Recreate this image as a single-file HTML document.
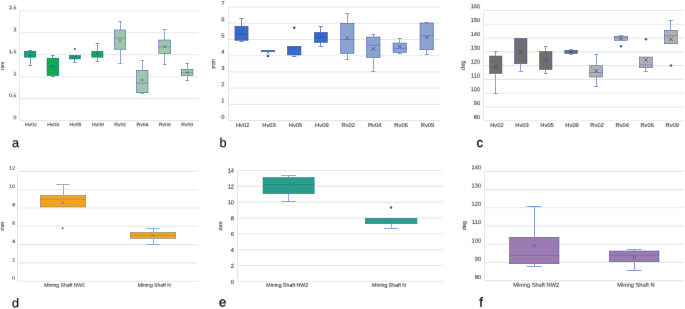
<!DOCTYPE html>
<html><head><meta charset="utf-8"><title>Box plots</title>
<style>
html,body{margin:0;padding:0;background:#fff;}
body{width:685px;height:309px;overflow:hidden;font-family:"Liberation Sans",sans-serif;}
svg{display:block;}

svg text{font-family:"Liberation Sans",sans-serif;}
</style></head><body>
<svg width="685" height="309" viewBox="0 0 685 309" text-rendering="geometricPrecision">
<defs><filter id="tb" x="0" y="0" width="685" height="309" filterUnits="userSpaceOnUse"><feConvolveMatrix order="3" kernelMatrix="0.0052 0.0619 0.0052 0.0619 0.7314 0.0619 0.0052 0.0619 0.0052" edgeMode="none" preserveAlpha="false"/></filter></defs>
<rect width="685" height="309" fill="#ffffff"/>
<line x1="19.60" y1="10.80" x2="198.25" y2="10.80" stroke="#e8e8e8" stroke-width="1.1" />
<line x1="19.60" y1="32.76" x2="198.25" y2="32.76" stroke="#e8e8e8" stroke-width="1.1" />
<line x1="19.60" y1="54.72" x2="198.25" y2="54.72" stroke="#e8e8e8" stroke-width="1.1" />
<line x1="19.60" y1="76.68" x2="198.25" y2="76.68" stroke="#e8e8e8" stroke-width="1.1" />
<line x1="19.60" y1="98.64" x2="198.25" y2="98.64" stroke="#e8e8e8" stroke-width="1.1" />
<line x1="19.60" y1="120.60" x2="198.25" y2="120.60" stroke="#e8e8e8" stroke-width="1.1" />
<line x1="19.50" y1="10.80" x2="19.50" y2="120.60" stroke="#e8e8e8" stroke-width="1" />
<line x1="30.50" y1="50.50" x2="30.50" y2="51.20" stroke="#4466b0" stroke-width="0.65" />
<line x1="28.21" y1="50.50" x2="31.94" y2="50.50" stroke="#4466b0" stroke-width="0.65" />
<line x1="30.50" y1="57.20" x2="30.50" y2="65.50" stroke="#4466b0" stroke-width="0.65" />
<line x1="28.21" y1="65.50" x2="31.94" y2="65.50" stroke="#4466b0" stroke-width="0.65" />
<rect x="24.25" y="51.20" width="11.65" height="6.00" fill="#0dad4f" fill-opacity="1.0" stroke="#4366b2" stroke-width="0.55"/>
<line x1="24.25" y1="51.80" x2="35.90" y2="51.80" stroke="#4366b2" stroke-width="0.45" />
<line x1="28.72" y1="53.95" x2="31.43" y2="56.65" stroke="#2a4590" stroke-width="0.5" />
<line x1="28.72" y1="56.65" x2="31.43" y2="53.95" stroke="#2a4590" stroke-width="0.5" />
<line x1="52.50" y1="55.50" x2="52.50" y2="58.10" stroke="#4466b0" stroke-width="0.65" />
<line x1="51.05" y1="55.50" x2="54.85" y2="55.50" stroke="#4466b0" stroke-width="0.65" />
<line x1="52.50" y1="75.60" x2="52.50" y2="76.50" stroke="#4466b0" stroke-width="0.65" />
<line x1="51.05" y1="76.50" x2="54.85" y2="76.50" stroke="#4466b0" stroke-width="0.65" />
<rect x="47.00" y="58.10" width="11.90" height="17.50" fill="#0dad4f" fill-opacity="1.0" stroke="#4366b2" stroke-width="0.55"/>
<line x1="47.00" y1="66.50" x2="58.90" y2="66.50" stroke="#4366b2" stroke-width="0.45" />
<line x1="51.60" y1="65.15" x2="54.30" y2="67.85" stroke="#2a4590" stroke-width="0.5" />
<line x1="51.60" y1="67.85" x2="54.30" y2="65.15" stroke="#2a4590" stroke-width="0.5" />
<line x1="74.50" y1="59.00" x2="74.50" y2="62.50" stroke="#4466b0" stroke-width="0.65" />
<line x1="73.08" y1="62.50" x2="76.67" y2="62.50" stroke="#4466b0" stroke-width="0.65" />
<rect x="69.25" y="55.25" width="11.25" height="3.75" fill="#0dad4f" fill-opacity="1.0" stroke="#4366b2" stroke-width="0.55"/>
<line x1="69.25" y1="57.00" x2="80.50" y2="57.00" stroke="#4366b2" stroke-width="0.45" />
<line x1="73.53" y1="55.65" x2="76.22" y2="58.35" stroke="#2a4590" stroke-width="0.5" />
<line x1="73.53" y1="58.35" x2="76.22" y2="55.65" stroke="#2a4590" stroke-width="0.5" />
<circle cx="74.75" cy="49.00" r="1.1" fill="#1f6f78"/>
<line x1="97.50" y1="43.50" x2="97.50" y2="51.20" stroke="#4466b0" stroke-width="0.65" />
<line x1="95.58" y1="43.50" x2="99.17" y2="43.50" stroke="#4466b0" stroke-width="0.65" />
<line x1="97.50" y1="57.20" x2="97.50" y2="61.50" stroke="#4466b0" stroke-width="0.65" />
<line x1="95.58" y1="61.50" x2="99.17" y2="61.50" stroke="#4466b0" stroke-width="0.65" />
<rect x="91.75" y="51.20" width="11.25" height="6.00" fill="#0dad4f" fill-opacity="1.0" stroke="#4366b2" stroke-width="0.55"/>
<line x1="91.75" y1="54.00" x2="103.00" y2="54.00" stroke="#4366b2" stroke-width="0.45" />
<line x1="96.03" y1="52.25" x2="98.72" y2="54.95" stroke="#2a4590" stroke-width="0.5" />
<line x1="96.03" y1="54.95" x2="98.72" y2="52.25" stroke="#2a4590" stroke-width="0.5" />
<line x1="120.50" y1="21.50" x2="120.50" y2="30.00" stroke="#5f7ebe" stroke-width="0.65" />
<line x1="118.16" y1="21.50" x2="121.84" y2="21.50" stroke="#5f7ebe" stroke-width="0.65" />
<line x1="120.50" y1="49.25" x2="120.50" y2="63.50" stroke="#5f7ebe" stroke-width="0.65" />
<line x1="118.16" y1="63.50" x2="121.84" y2="63.50" stroke="#5f7ebe" stroke-width="0.65" />
<rect x="114.25" y="30.00" width="11.50" height="19.25" fill="#9fc5aa" fill-opacity="1.0" stroke="#4366b2" stroke-width="0.55"/>
<line x1="114.25" y1="38.00" x2="125.75" y2="38.00" stroke="#4366b2" stroke-width="0.45" />
<line x1="118.65" y1="39.15" x2="121.35" y2="41.85" stroke="#2a4590" stroke-width="0.5" />
<line x1="118.65" y1="41.85" x2="121.35" y2="39.15" stroke="#2a4590" stroke-width="0.5" />
<line x1="142.50" y1="60.50" x2="142.50" y2="70.25" stroke="#5f7ebe" stroke-width="0.65" />
<line x1="140.41" y1="60.50" x2="144.09" y2="60.50" stroke="#5f7ebe" stroke-width="0.65" />
<line x1="142.50" y1="92.75" x2="142.50" y2="93.50" stroke="#5f7ebe" stroke-width="0.65" />
<line x1="140.41" y1="93.50" x2="144.09" y2="93.50" stroke="#5f7ebe" stroke-width="0.65" />
<rect x="136.50" y="70.25" width="11.50" height="22.50" fill="#9fc5aa" fill-opacity="1.0" stroke="#4366b2" stroke-width="0.55"/>
<line x1="136.50" y1="83.25" x2="148.00" y2="83.25" stroke="#4366b2" stroke-width="0.45" />
<line x1="140.90" y1="78.65" x2="143.60" y2="81.35" stroke="#2a4590" stroke-width="0.5" />
<line x1="140.90" y1="81.35" x2="143.60" y2="78.65" stroke="#2a4590" stroke-width="0.5" />
<line x1="164.50" y1="29.50" x2="164.50" y2="40.00" stroke="#5f7ebe" stroke-width="0.65" />
<line x1="162.83" y1="29.50" x2="166.67" y2="29.50" stroke="#5f7ebe" stroke-width="0.65" />
<line x1="164.50" y1="53.50" x2="164.50" y2="64.50" stroke="#5f7ebe" stroke-width="0.65" />
<line x1="162.83" y1="64.50" x2="166.67" y2="64.50" stroke="#5f7ebe" stroke-width="0.65" />
<rect x="158.75" y="40.00" width="12.00" height="13.50" fill="#9fc5aa" fill-opacity="1.0" stroke="#4366b2" stroke-width="0.55"/>
<line x1="158.75" y1="46.75" x2="170.75" y2="46.75" stroke="#4366b2" stroke-width="0.45" />
<line x1="163.40" y1="45.40" x2="166.10" y2="48.10" stroke="#2a4590" stroke-width="0.5" />
<line x1="163.40" y1="48.10" x2="166.10" y2="45.40" stroke="#2a4590" stroke-width="0.5" />
<line x1="187.50" y1="63.50" x2="187.50" y2="69.25" stroke="#5f7ebe" stroke-width="0.65" />
<line x1="185.25" y1="63.50" x2="189.00" y2="63.50" stroke="#5f7ebe" stroke-width="0.65" />
<line x1="187.50" y1="75.50" x2="187.50" y2="80.50" stroke="#5f7ebe" stroke-width="0.65" />
<line x1="185.25" y1="80.50" x2="189.00" y2="80.50" stroke="#5f7ebe" stroke-width="0.65" />
<rect x="181.25" y="69.25" width="11.75" height="6.25" fill="#9fc5aa" fill-opacity="1.0" stroke="#4366b2" stroke-width="0.55"/>
<line x1="181.25" y1="72.50" x2="193.00" y2="72.50" stroke="#4366b2" stroke-width="0.45" />
<line x1="185.78" y1="71.15" x2="188.47" y2="73.85" stroke="#2a4590" stroke-width="0.5" />
<line x1="185.78" y1="73.85" x2="188.47" y2="71.15" stroke="#2a4590" stroke-width="0.5" />
<line x1="228.70" y1="7.00" x2="440.00" y2="7.00" stroke="#e8e8e8" stroke-width="1.1" />
<line x1="228.70" y1="23.23" x2="440.00" y2="23.23" stroke="#e8e8e8" stroke-width="1.1" />
<line x1="228.70" y1="39.46" x2="440.00" y2="39.46" stroke="#e8e8e8" stroke-width="1.1" />
<line x1="228.70" y1="55.69" x2="440.00" y2="55.69" stroke="#e8e8e8" stroke-width="1.1" />
<line x1="228.70" y1="71.92" x2="440.00" y2="71.92" stroke="#e8e8e8" stroke-width="1.1" />
<line x1="228.70" y1="88.15" x2="440.00" y2="88.15" stroke="#e8e8e8" stroke-width="1.1" />
<line x1="228.70" y1="104.38" x2="440.00" y2="104.38" stroke="#e8e8e8" stroke-width="1.1" />
<line x1="228.70" y1="120.61" x2="440.00" y2="120.61" stroke="#e8e8e8" stroke-width="1.1" />
<line x1="228.50" y1="7.00" x2="228.50" y2="120.61" stroke="#e8e8e8" stroke-width="1" />
<line x1="241.50" y1="18.50" x2="241.50" y2="26.20" stroke="#5a7cc4" stroke-width="0.85" />
<line x1="239.39" y1="18.50" x2="243.61" y2="18.50" stroke="#5a7cc4" stroke-width="0.85" />
<line x1="241.50" y1="40.40" x2="241.50" y2="41.50" stroke="#5a7cc4" stroke-width="0.85" />
<line x1="239.39" y1="41.50" x2="243.61" y2="41.50" stroke="#5a7cc4" stroke-width="0.85" />
<rect x="234.90" y="26.20" width="13.20" height="14.20" fill="#3a6bc6" fill-opacity="1.0" stroke="#4366b2" stroke-width="0.55"/>
<line x1="234.90" y1="34.25" x2="248.10" y2="34.25" stroke="#2c52a6" stroke-width="0.45" />
<line x1="239.70" y1="30.70" x2="243.30" y2="34.30" stroke="#2c52a6" stroke-width="0.6" />
<line x1="239.70" y1="34.30" x2="243.30" y2="30.70" stroke="#2c52a6" stroke-width="0.6" />
<rect x="261.25" y="50.25" width="13.50" height="1.50" fill="#3a6bc6" fill-opacity="1.0" stroke="#4366b2" stroke-width="0.55"/>
<line x1="266.20" y1="50.80" x2="269.80" y2="54.40" stroke="#2c52a6" stroke-width="0.6" />
<line x1="266.20" y1="54.40" x2="269.80" y2="50.80" stroke="#2c52a6" stroke-width="0.6" />
<circle cx="268.00" cy="56.00" r="1.3" fill="#2f60c0"/>
<line x1="294.50" y1="55.00" x2="294.50" y2="56.50" stroke="#5a7cc4" stroke-width="0.85" />
<line x1="291.96" y1="56.50" x2="296.34" y2="56.50" stroke="#5a7cc4" stroke-width="0.85" />
<rect x="287.30" y="46.50" width="13.70" height="8.50" fill="#3a6bc6" fill-opacity="1.0" stroke="#4366b2" stroke-width="0.55"/>
<line x1="287.30" y1="46.90" x2="301.00" y2="46.90" stroke="#2c52a6" stroke-width="0.45" />
<line x1="292.35" y1="46.20" x2="295.95" y2="49.80" stroke="#2c52a6" stroke-width="0.6" />
<line x1="292.35" y1="49.80" x2="295.95" y2="46.20" stroke="#2c52a6" stroke-width="0.6" />
<circle cx="294.25" cy="27.75" r="1.3" fill="#2f60c0"/>
<line x1="320.50" y1="26.50" x2="320.50" y2="32.25" stroke="#5a7cc4" stroke-width="0.85" />
<line x1="318.75" y1="26.50" x2="323.00" y2="26.50" stroke="#5a7cc4" stroke-width="0.85" />
<line x1="320.50" y1="42.50" x2="320.50" y2="46.50" stroke="#5a7cc4" stroke-width="0.85" />
<line x1="318.75" y1="46.50" x2="323.00" y2="46.50" stroke="#5a7cc4" stroke-width="0.85" />
<rect x="314.25" y="32.25" width="13.25" height="10.25" fill="#3a6bc6" fill-opacity="1.0" stroke="#4366b2" stroke-width="0.55"/>
<line x1="314.25" y1="37.50" x2="327.50" y2="37.50" stroke="#2c52a6" stroke-width="0.45" />
<line x1="319.07" y1="35.20" x2="322.68" y2="38.80" stroke="#2c52a6" stroke-width="0.6" />
<line x1="319.07" y1="38.80" x2="322.68" y2="35.20" stroke="#2c52a6" stroke-width="0.6" />
<line x1="347.50" y1="13.50" x2="347.50" y2="23.25" stroke="#7e96cc" stroke-width="0.85" />
<line x1="345.09" y1="13.50" x2="349.41" y2="13.50" stroke="#7e96cc" stroke-width="0.85" />
<line x1="347.50" y1="53.50" x2="347.50" y2="59.50" stroke="#7e96cc" stroke-width="0.85" />
<line x1="345.09" y1="59.50" x2="349.41" y2="59.50" stroke="#7e96cc" stroke-width="0.85" />
<rect x="340.50" y="23.25" width="13.50" height="30.25" fill="#8ca3d1" fill-opacity="1.0" stroke="#4366b2" stroke-width="0.55"/>
<line x1="340.50" y1="39.50" x2="354.00" y2="39.50" stroke="#4366b2" stroke-width="0.45" />
<line x1="345.45" y1="36.20" x2="349.05" y2="39.80" stroke="#2a4590" stroke-width="0.6" />
<line x1="345.45" y1="39.80" x2="349.05" y2="36.20" stroke="#2a4590" stroke-width="0.6" />
<line x1="373.50" y1="34.50" x2="373.50" y2="37.00" stroke="#7e96cc" stroke-width="0.85" />
<line x1="371.09" y1="34.50" x2="375.41" y2="34.50" stroke="#7e96cc" stroke-width="0.85" />
<line x1="373.50" y1="57.50" x2="373.50" y2="71.50" stroke="#7e96cc" stroke-width="0.85" />
<line x1="371.09" y1="71.50" x2="375.41" y2="71.50" stroke="#7e96cc" stroke-width="0.85" />
<rect x="366.50" y="37.00" width="13.50" height="20.50" fill="#8ca3d1" fill-opacity="1.0" stroke="#4366b2" stroke-width="0.55"/>
<line x1="366.50" y1="45.25" x2="380.00" y2="45.25" stroke="#4366b2" stroke-width="0.45" />
<line x1="371.45" y1="47.20" x2="375.05" y2="50.80" stroke="#2a4590" stroke-width="0.6" />
<line x1="371.45" y1="50.80" x2="375.05" y2="47.20" stroke="#2a4590" stroke-width="0.6" />
<line x1="399.50" y1="38.50" x2="399.50" y2="43.00" stroke="#7e96cc" stroke-width="0.85" />
<line x1="397.59" y1="38.50" x2="401.91" y2="38.50" stroke="#7e96cc" stroke-width="0.85" />
<line x1="399.50" y1="52.50" x2="399.50" y2="53.50" stroke="#7e96cc" stroke-width="0.85" />
<line x1="397.59" y1="53.50" x2="401.91" y2="53.50" stroke="#7e96cc" stroke-width="0.85" />
<rect x="393.00" y="43.00" width="13.50" height="9.50" fill="#8ca3d1" fill-opacity="1.0" stroke="#4366b2" stroke-width="0.55"/>
<line x1="393.00" y1="48.25" x2="406.50" y2="48.25" stroke="#4366b2" stroke-width="0.45" />
<line x1="397.95" y1="44.95" x2="401.55" y2="48.55" stroke="#2a4590" stroke-width="0.6" />
<line x1="397.95" y1="48.55" x2="401.55" y2="44.95" stroke="#2a4590" stroke-width="0.6" />
<line x1="426.50" y1="22.50" x2="426.50" y2="23.00" stroke="#7e96cc" stroke-width="0.85" />
<line x1="424.59" y1="22.50" x2="428.91" y2="22.50" stroke="#7e96cc" stroke-width="0.85" />
<line x1="426.50" y1="49.75" x2="426.50" y2="54.50" stroke="#7e96cc" stroke-width="0.85" />
<line x1="424.59" y1="54.50" x2="428.91" y2="54.50" stroke="#7e96cc" stroke-width="0.85" />
<rect x="420.00" y="23.00" width="13.50" height="26.75" fill="#8ca3d1" fill-opacity="1.0" stroke="#4366b2" stroke-width="0.55"/>
<line x1="420.00" y1="35.75" x2="433.50" y2="35.75" stroke="#4366b2" stroke-width="0.45" />
<line x1="424.95" y1="35.70" x2="428.55" y2="39.30" stroke="#2a4590" stroke-width="0.6" />
<line x1="424.95" y1="39.30" x2="428.55" y2="35.70" stroke="#2a4590" stroke-width="0.6" />
<line x1="483.70" y1="10.50" x2="684.00" y2="10.50" stroke="#e8e8e8" stroke-width="1.1" />
<line x1="483.70" y1="24.28" x2="684.00" y2="24.28" stroke="#e8e8e8" stroke-width="1.1" />
<line x1="483.70" y1="38.06" x2="684.00" y2="38.06" stroke="#e8e8e8" stroke-width="1.1" />
<line x1="483.70" y1="51.84" x2="684.00" y2="51.84" stroke="#e8e8e8" stroke-width="1.1" />
<line x1="483.70" y1="65.62" x2="684.00" y2="65.62" stroke="#e8e8e8" stroke-width="1.1" />
<line x1="483.70" y1="79.40" x2="684.00" y2="79.40" stroke="#e8e8e8" stroke-width="1.1" />
<line x1="483.70" y1="93.18" x2="684.00" y2="93.18" stroke="#e8e8e8" stroke-width="1.1" />
<line x1="483.70" y1="106.96" x2="684.00" y2="106.96" stroke="#e8e8e8" stroke-width="1.1" />
<line x1="483.70" y1="120.74" x2="684.00" y2="120.74" stroke="#e8e8e8" stroke-width="1.1" />
<line x1="483.50" y1="10.50" x2="483.50" y2="120.74" stroke="#e8e8e8" stroke-width="1" />
<line x1="495.50" y1="51.50" x2="495.50" y2="56.00" stroke="#7f98d0" stroke-width="0.9" />
<line x1="493.75" y1="51.50" x2="497.75" y2="51.50" stroke="#7f98d0" stroke-width="0.9" />
<line x1="495.50" y1="73.50" x2="495.50" y2="93.50" stroke="#7f98d0" stroke-width="0.9" />
<line x1="493.75" y1="93.50" x2="497.75" y2="93.50" stroke="#7f98d0" stroke-width="0.9" />
<rect x="489.50" y="56.00" width="12.50" height="17.50" fill="#736d6c" fill-opacity="1.0" stroke="#4366b2" stroke-width="0.55"/>
<line x1="489.50" y1="62.00" x2="502.00" y2="62.00" stroke="#4366b2" stroke-width="0.45" />
<line x1="493.95" y1="65.20" x2="497.55" y2="68.80" stroke="#2a4590" stroke-width="0.65" />
<line x1="493.95" y1="68.80" x2="497.55" y2="65.20" stroke="#2a4590" stroke-width="0.65" />
<line x1="520.50" y1="63.75" x2="520.50" y2="71.50" stroke="#7f98d0" stroke-width="0.9" />
<line x1="518.75" y1="71.50" x2="522.75" y2="71.50" stroke="#7f98d0" stroke-width="0.9" />
<rect x="514.50" y="38.25" width="12.50" height="25.50" fill="#736d6c" fill-opacity="1.0" stroke="#4366b2" stroke-width="0.55"/>
<line x1="514.50" y1="49.50" x2="527.00" y2="49.50" stroke="#4366b2" stroke-width="0.45" />
<line x1="518.95" y1="50.20" x2="522.55" y2="53.80" stroke="#2a4590" stroke-width="0.65" />
<line x1="518.95" y1="53.80" x2="522.55" y2="50.20" stroke="#2a4590" stroke-width="0.65" />
<line x1="545.50" y1="46.50" x2="545.50" y2="51.50" stroke="#7f98d0" stroke-width="0.9" />
<line x1="543.75" y1="46.50" x2="547.75" y2="46.50" stroke="#7f98d0" stroke-width="0.9" />
<line x1="545.50" y1="69.50" x2="545.50" y2="73.50" stroke="#7f98d0" stroke-width="0.9" />
<line x1="543.75" y1="73.50" x2="547.75" y2="73.50" stroke="#7f98d0" stroke-width="0.9" />
<rect x="539.50" y="51.50" width="12.50" height="18.00" fill="#736d6c" fill-opacity="1.0" stroke="#4366b2" stroke-width="0.55"/>
<line x1="539.50" y1="60.00" x2="552.00" y2="60.00" stroke="#4366b2" stroke-width="0.45" />
<line x1="543.95" y1="58.70" x2="547.55" y2="62.30" stroke="#2a4590" stroke-width="0.65" />
<line x1="543.95" y1="62.30" x2="547.55" y2="58.70" stroke="#2a4590" stroke-width="0.65" />
<line x1="571.50" y1="49.50" x2="571.50" y2="50.25" stroke="#7f98d0" stroke-width="0.9" />
<line x1="569.09" y1="49.50" x2="573.16" y2="49.50" stroke="#7f98d0" stroke-width="0.9" />
<line x1="571.50" y1="53.50" x2="571.50" y2="54.50" stroke="#7f98d0" stroke-width="0.9" />
<line x1="569.09" y1="54.50" x2="573.16" y2="54.50" stroke="#7f98d0" stroke-width="0.9" />
<rect x="564.75" y="50.25" width="12.75" height="3.25" fill="#736d6c" fill-opacity="1.0" stroke="#4366b2" stroke-width="0.55"/>
<line x1="564.75" y1="52.00" x2="577.50" y2="52.00" stroke="#4366b2" stroke-width="0.45" />
<line x1="569.33" y1="50.20" x2="572.92" y2="53.80" stroke="#2a4590" stroke-width="0.65" />
<line x1="569.33" y1="53.80" x2="572.92" y2="50.20" stroke="#2a4590" stroke-width="0.65" />
<line x1="596.50" y1="54.50" x2="596.50" y2="65.75" stroke="#7f98d0" stroke-width="0.9" />
<line x1="594.09" y1="54.50" x2="598.16" y2="54.50" stroke="#7f98d0" stroke-width="0.9" />
<line x1="596.50" y1="77.00" x2="596.50" y2="86.50" stroke="#7f98d0" stroke-width="0.9" />
<line x1="594.09" y1="86.50" x2="598.16" y2="86.50" stroke="#7f98d0" stroke-width="0.9" />
<rect x="589.75" y="65.75" width="12.75" height="11.25" fill="#b1b0b0" fill-opacity="1.0" stroke="#4366b2" stroke-width="0.55"/>
<line x1="589.75" y1="72.50" x2="602.50" y2="72.50" stroke="#4366b2" stroke-width="0.45" />
<line x1="594.33" y1="69.20" x2="597.92" y2="72.80" stroke="#2a4590" stroke-width="0.65" />
<line x1="594.33" y1="72.80" x2="597.92" y2="69.20" stroke="#2a4590" stroke-width="0.65" />
<line x1="621.50" y1="35.50" x2="621.50" y2="36.25" stroke="#7f98d0" stroke-width="0.9" />
<line x1="618.92" y1="35.50" x2="623.08" y2="35.50" stroke="#7f98d0" stroke-width="0.9" />
<rect x="614.50" y="36.25" width="13.00" height="4.00" fill="#b1b0b0" fill-opacity="1.0" stroke="#4366b2" stroke-width="0.55"/>
<line x1="614.50" y1="38.00" x2="627.50" y2="38.00" stroke="#4366b2" stroke-width="0.45" />
<line x1="619.20" y1="36.70" x2="622.80" y2="40.30" stroke="#2a4590" stroke-width="0.65" />
<line x1="619.20" y1="40.30" x2="622.80" y2="36.70" stroke="#2a4590" stroke-width="0.65" />
<circle cx="621.00" cy="46.25" r="1.35" fill="#566c9c"/>
<line x1="645.50" y1="67.75" x2="645.50" y2="71.50" stroke="#7f98d0" stroke-width="0.9" />
<line x1="643.84" y1="71.50" x2="647.91" y2="71.50" stroke="#7f98d0" stroke-width="0.9" />
<rect x="639.50" y="57.00" width="12.75" height="10.75" fill="#b1b0b0" fill-opacity="1.0" stroke="#4366b2" stroke-width="0.55"/>
<line x1="639.50" y1="65.00" x2="652.25" y2="65.00" stroke="#4366b2" stroke-width="0.45" />
<line x1="644.08" y1="58.20" x2="647.67" y2="61.80" stroke="#2a4590" stroke-width="0.65" />
<line x1="644.08" y1="61.80" x2="647.67" y2="58.20" stroke="#2a4590" stroke-width="0.65" />
<circle cx="646.00" cy="39.25" r="1.35" fill="#566c9c"/>
<line x1="670.50" y1="20.50" x2="670.50" y2="30.25" stroke="#7f98d0" stroke-width="0.9" />
<line x1="668.79" y1="20.50" x2="672.91" y2="20.50" stroke="#7f98d0" stroke-width="0.9" />
<rect x="664.40" y="30.25" width="12.90" height="13.50" fill="#b1b0b0" fill-opacity="1.0" stroke="#4366b2" stroke-width="0.55"/>
<line x1="664.40" y1="35.75" x2="677.30" y2="35.75" stroke="#4366b2" stroke-width="0.45" />
<line x1="669.05" y1="37.45" x2="672.65" y2="41.05" stroke="#2a4590" stroke-width="0.65" />
<line x1="669.05" y1="41.05" x2="672.65" y2="37.45" stroke="#2a4590" stroke-width="0.65" />
<circle cx="671.00" cy="65.50" r="1.35" fill="#566c9c"/>
<line x1="17.80" y1="171.40" x2="198.00" y2="171.40" stroke="#e8e8e8" stroke-width="1.1" />
<line x1="17.80" y1="189.70" x2="198.00" y2="189.70" stroke="#e8e8e8" stroke-width="1.1" />
<line x1="17.80" y1="208.00" x2="198.00" y2="208.00" stroke="#e8e8e8" stroke-width="1.1" />
<line x1="17.80" y1="226.30" x2="198.00" y2="226.30" stroke="#e8e8e8" stroke-width="1.1" />
<line x1="17.80" y1="244.60" x2="198.00" y2="244.60" stroke="#e8e8e8" stroke-width="1.1" />
<line x1="17.80" y1="262.90" x2="198.00" y2="262.90" stroke="#e8e8e8" stroke-width="1.1" />
<line x1="17.80" y1="281.20" x2="198.00" y2="281.20" stroke="#e8e8e8" stroke-width="1.1" />
<line x1="17.50" y1="171.40" x2="17.50" y2="281.20" stroke="#e8e8e8" stroke-width="1" />
<line x1="63.50" y1="184.50" x2="63.50" y2="195.50" stroke="#7492cf" stroke-width="0.75" />
<line x1="56.40" y1="184.50" x2="69.60" y2="184.50" stroke="#7492cf" stroke-width="0.75" />
<rect x="40.25" y="195.50" width="45.50" height="11.50" fill="#f0a31d" fill-opacity="1.0" stroke="#7f8798" stroke-width="0.55"/>
<line x1="40.25" y1="199.25" x2="85.75" y2="199.25" stroke="#7f8798" stroke-width="0.45" />
<line x1="60.95" y1="200.95" x2="64.55" y2="204.55" stroke="#6f7f9f" stroke-width="0.65" />
<line x1="60.95" y1="204.55" x2="64.55" y2="200.95" stroke="#6f7f9f" stroke-width="0.65" />
<circle cx="62.75" cy="228.25" r="1.0" fill="#7a7a78"/>
<line x1="153.50" y1="228.50" x2="153.50" y2="232.25" stroke="#7492cf" stroke-width="0.75" />
<line x1="146.40" y1="228.50" x2="159.60" y2="228.50" stroke="#7492cf" stroke-width="0.75" />
<line x1="153.50" y1="238.50" x2="153.50" y2="244.50" stroke="#7492cf" stroke-width="0.75" />
<line x1="146.40" y1="244.50" x2="159.60" y2="244.50" stroke="#7492cf" stroke-width="0.75" />
<rect x="130.25" y="232.25" width="45.50" height="6.25" fill="#f0a31d" fill-opacity="1.0" stroke="#7f8798" stroke-width="0.55"/>
<line x1="130.25" y1="235.50" x2="175.75" y2="235.50" stroke="#7f8798" stroke-width="0.45" />
<line x1="151.20" y1="233.70" x2="154.80" y2="237.30" stroke="#6f7f9f" stroke-width="0.65" />
<line x1="151.20" y1="237.30" x2="154.80" y2="233.70" stroke="#6f7f9f" stroke-width="0.65" />
<line x1="237.50" y1="170.50" x2="442.50" y2="170.50" stroke="#e8e8e8" stroke-width="1.1" />
<line x1="237.50" y1="186.33" x2="442.50" y2="186.33" stroke="#e8e8e8" stroke-width="1.1" />
<line x1="237.50" y1="202.16" x2="442.50" y2="202.16" stroke="#e8e8e8" stroke-width="1.1" />
<line x1="237.50" y1="217.99" x2="442.50" y2="217.99" stroke="#e8e8e8" stroke-width="1.1" />
<line x1="237.50" y1="233.82" x2="442.50" y2="233.82" stroke="#e8e8e8" stroke-width="1.1" />
<line x1="237.50" y1="249.65" x2="442.50" y2="249.65" stroke="#e8e8e8" stroke-width="1.1" />
<line x1="237.50" y1="265.48" x2="442.50" y2="265.48" stroke="#e8e8e8" stroke-width="1.1" />
<line x1="237.50" y1="281.31" x2="442.50" y2="281.31" stroke="#e8e8e8" stroke-width="1.1" />
<line x1="237.50" y1="170.50" x2="237.50" y2="281.31" stroke="#e8e8e8" stroke-width="1" />
<line x1="288.50" y1="175.50" x2="288.50" y2="177.50" stroke="#7492cf" stroke-width="0.75" />
<line x1="281.20" y1="175.50" x2="296.00" y2="175.50" stroke="#7492cf" stroke-width="0.75" />
<line x1="288.50" y1="193.75" x2="288.50" y2="201.50" stroke="#7492cf" stroke-width="0.75" />
<line x1="281.20" y1="201.50" x2="296.00" y2="201.50" stroke="#7492cf" stroke-width="0.75" />
<rect x="263.00" y="177.50" width="51.20" height="16.25" fill="#2a9c8e" fill-opacity="1.0" stroke="#3a82a6" stroke-width="0.55"/>
<line x1="263.00" y1="184.50" x2="314.20" y2="184.50" stroke="#2a7a80" stroke-width="0.45" />
<line x1="286.95" y1="184.70" x2="290.55" y2="188.30" stroke="#3a80a0" stroke-width="0.4" />
<line x1="286.95" y1="188.30" x2="290.55" y2="184.70" stroke="#3a80a0" stroke-width="0.4" />
<line x1="391.50" y1="223.75" x2="391.50" y2="228.50" stroke="#7492cf" stroke-width="0.75" />
<line x1="383.88" y1="228.50" x2="398.38" y2="228.50" stroke="#7492cf" stroke-width="0.75" />
<rect x="365.25" y="218.25" width="51.75" height="5.50" fill="#2a9c8e" fill-opacity="1.0" stroke="#3a82a6" stroke-width="0.55"/>
<line x1="389.20" y1="218.70" x2="392.80" y2="222.30" stroke="#3a80a0" stroke-width="0.4" />
<line x1="389.20" y1="222.30" x2="392.80" y2="218.70" stroke="#3a80a0" stroke-width="0.4" />
<circle cx="391.00" cy="207.50" r="1.25" fill="#2a7a98"/>
<line x1="484.60" y1="171.40" x2="684.00" y2="171.40" stroke="#e8e8e8" stroke-width="1.1" />
<line x1="484.60" y1="189.60" x2="684.00" y2="189.60" stroke="#e8e8e8" stroke-width="1.1" />
<line x1="484.60" y1="207.80" x2="684.00" y2="207.80" stroke="#e8e8e8" stroke-width="1.1" />
<line x1="484.60" y1="226.00" x2="684.00" y2="226.00" stroke="#e8e8e8" stroke-width="1.1" />
<line x1="484.60" y1="244.20" x2="684.00" y2="244.20" stroke="#e8e8e8" stroke-width="1.1" />
<line x1="484.60" y1="262.40" x2="684.00" y2="262.40" stroke="#e8e8e8" stroke-width="1.1" />
<line x1="484.60" y1="280.60" x2="684.00" y2="280.60" stroke="#e8e8e8" stroke-width="1.1" />
<line x1="484.50" y1="171.40" x2="484.50" y2="280.60" stroke="#e8e8e8" stroke-width="1" />
<line x1="534.50" y1="206.50" x2="534.50" y2="237.25" stroke="#8aa3d6" stroke-width="1.1" />
<line x1="526.85" y1="206.50" x2="541.65" y2="206.50" stroke="#8aa3d6" stroke-width="1.1" />
<line x1="534.50" y1="263.75" x2="534.50" y2="266.50" stroke="#8aa3d6" stroke-width="1.1" />
<line x1="526.85" y1="266.50" x2="541.65" y2="266.50" stroke="#8aa3d6" stroke-width="1.1" />
<rect x="509.50" y="237.25" width="49.50" height="26.50" fill="#9c7bb3" fill-opacity="1.0" stroke="#4366b2" stroke-width="0.55"/>
<line x1="509.50" y1="255.50" x2="559.00" y2="255.50" stroke="#4366b2" stroke-width="0.45" />
<line x1="532.45" y1="243.95" x2="536.05" y2="247.55" stroke="#2a4590" stroke-width="0.45" />
<line x1="532.45" y1="247.55" x2="536.05" y2="243.95" stroke="#2a4590" stroke-width="0.45" />
<line x1="634.50" y1="249.50" x2="634.50" y2="251.00" stroke="#8aa3d6" stroke-width="1.1" />
<line x1="626.88" y1="249.50" x2="641.38" y2="249.50" stroke="#8aa3d6" stroke-width="1.1" />
<line x1="634.50" y1="261.75" x2="634.50" y2="270.50" stroke="#8aa3d6" stroke-width="1.1" />
<line x1="626.88" y1="270.50" x2="641.38" y2="270.50" stroke="#8aa3d6" stroke-width="1.1" />
<rect x="609.25" y="251.00" width="49.75" height="10.75" fill="#9c7bb3" fill-opacity="1.0" stroke="#4366b2" stroke-width="0.55"/>
<line x1="609.25" y1="255.25" x2="659.00" y2="255.25" stroke="#4366b2" stroke-width="0.45" />
<line x1="632.45" y1="255.70" x2="636.05" y2="259.30" stroke="#2a4590" stroke-width="0.45" />
<line x1="632.45" y1="259.30" x2="636.05" y2="255.70" stroke="#2a4590" stroke-width="0.45" />
<g class="t" filter="url(#tb)">
<text x="16.30" y="9.26" font-size="5.2" text-anchor="end" fill="#383838" font-weight="normal" font-style="normal" transform="rotate(0.04 16.30 9.26)" stroke="#383838" stroke-width="0.1">2.5</text>
<text x="16.30" y="31.25" font-size="5.2" text-anchor="end" fill="#383838" font-weight="normal" font-style="normal" transform="rotate(0.04 16.30 31.25)" stroke="#383838" stroke-width="0.1">2</text>
<text x="16.30" y="53.24" font-size="5.2" text-anchor="end" fill="#383838" font-weight="normal" font-style="normal" transform="rotate(0.04 16.30 53.24)" stroke="#383838" stroke-width="0.1">1.5</text>
<text x="16.30" y="75.23" font-size="5.2" text-anchor="end" fill="#383838" font-weight="normal" font-style="normal" transform="rotate(0.04 16.30 75.23)" stroke="#383838" stroke-width="0.1">1</text>
<text x="16.30" y="97.22" font-size="5.2" text-anchor="end" fill="#383838" font-weight="normal" font-style="normal" transform="rotate(0.04 16.30 97.22)" stroke="#383838" stroke-width="0.1">0.5</text>
<text x="16.30" y="119.21" font-size="5.2" text-anchor="end" fill="#383838" font-weight="normal" font-style="normal" transform="rotate(0.04 16.30 119.21)" stroke="#383838" stroke-width="0.1">0</text>
<text x="4.10" y="65.70" font-size="4.8" text-anchor="middle" fill="#383838" font-weight="normal" font-style="normal" transform="rotate(-89.96 4.10 65.70)" stroke="#383838" stroke-width="0.1">mm</text>
<text x="30.87" y="126.18" font-size="5.1" text-anchor="middle" fill="#383838" font-weight="normal" font-style="normal" transform="rotate(0.04 30.87 126.18)" stroke="#383838" stroke-width="0.1">Hv02</text>
<text x="53.20" y="126.18" font-size="5.1" text-anchor="middle" fill="#383838" font-weight="normal" font-style="normal" transform="rotate(0.04 53.20 126.18)" stroke="#383838" stroke-width="0.1">Hv03</text>
<text x="75.53" y="126.18" font-size="5.1" text-anchor="middle" fill="#383838" font-weight="normal" font-style="normal" transform="rotate(0.04 75.53 126.18)" stroke="#383838" stroke-width="0.1">Hv05</text>
<text x="97.86" y="126.18" font-size="5.1" text-anchor="middle" fill="#383838" font-weight="normal" font-style="normal" transform="rotate(0.04 97.86 126.18)" stroke="#383838" stroke-width="0.1">Hv09</text>
<text x="120.19" y="126.18" font-size="5.1" text-anchor="middle" fill="#383838" font-weight="normal" font-style="normal" transform="rotate(0.04 120.19 126.18)" stroke="#383838" stroke-width="0.1">Rv02</text>
<text x="142.52" y="126.18" font-size="5.1" text-anchor="middle" fill="#383838" font-weight="normal" font-style="normal" transform="rotate(0.04 142.52 126.18)" stroke="#383838" stroke-width="0.1">Rv04</text>
<text x="164.85" y="126.18" font-size="5.1" text-anchor="middle" fill="#383838" font-weight="normal" font-style="normal" transform="rotate(0.04 164.85 126.18)" stroke="#383838" stroke-width="0.1">Rv06</text>
<text x="187.18" y="126.18" font-size="5.1" text-anchor="middle" fill="#383838" font-weight="normal" font-style="normal" transform="rotate(0.04 187.18 126.18)" stroke="#383838" stroke-width="0.1">Rv09</text>
<text x="224.40" y="4.98" font-size="5.8" text-anchor="end" fill="#383838" font-weight="normal" font-style="normal" transform="rotate(0.04 224.40 4.98)" stroke="#383838" stroke-width="0.1">7</text>
<text x="224.40" y="21.25" font-size="5.8" text-anchor="end" fill="#383838" font-weight="normal" font-style="normal" transform="rotate(0.04 224.40 21.25)" stroke="#383838" stroke-width="0.1">6</text>
<text x="224.40" y="37.52" font-size="5.8" text-anchor="end" fill="#383838" font-weight="normal" font-style="normal" transform="rotate(0.04 224.40 37.52)" stroke="#383838" stroke-width="0.1">5</text>
<text x="224.40" y="53.79" font-size="5.8" text-anchor="end" fill="#383838" font-weight="normal" font-style="normal" transform="rotate(0.04 224.40 53.79)" stroke="#383838" stroke-width="0.1">4</text>
<text x="224.40" y="70.06" font-size="5.8" text-anchor="end" fill="#383838" font-weight="normal" font-style="normal" transform="rotate(0.04 224.40 70.06)" stroke="#383838" stroke-width="0.1">3</text>
<text x="224.40" y="86.33" font-size="5.8" text-anchor="end" fill="#383838" font-weight="normal" font-style="normal" transform="rotate(0.04 224.40 86.33)" stroke="#383838" stroke-width="0.1">2</text>
<text x="224.40" y="102.60" font-size="5.8" text-anchor="end" fill="#383838" font-weight="normal" font-style="normal" transform="rotate(0.04 224.40 102.60)" stroke="#383838" stroke-width="0.1">1</text>
<text x="224.40" y="118.87" font-size="5.8" text-anchor="end" fill="#383838" font-weight="normal" font-style="normal" transform="rotate(0.04 224.40 118.87)" stroke="#383838" stroke-width="0.1">0</text>
<text x="215.30" y="63.80" font-size="5.9" text-anchor="middle" fill="#383838" font-weight="normal" font-style="normal" transform="rotate(-89.96 215.30 63.80)" stroke="#383838" stroke-width="0.1">mm</text>
<text x="242.66" y="127.08" font-size="5.8" text-anchor="middle" fill="#383838" font-weight="normal" font-style="normal" transform="rotate(0.04 242.66 127.08)" stroke="#383838" stroke-width="0.1">Hv02</text>
<text x="269.07" y="127.08" font-size="5.8" text-anchor="middle" fill="#383838" font-weight="normal" font-style="normal" transform="rotate(0.04 269.07 127.08)" stroke="#383838" stroke-width="0.1">Hv03</text>
<text x="295.48" y="127.08" font-size="5.8" text-anchor="middle" fill="#383838" font-weight="normal" font-style="normal" transform="rotate(0.04 295.48 127.08)" stroke="#383838" stroke-width="0.1">Hv05</text>
<text x="321.89" y="127.08" font-size="5.8" text-anchor="middle" fill="#383838" font-weight="normal" font-style="normal" transform="rotate(0.04 321.89 127.08)" stroke="#383838" stroke-width="0.1">Hv09</text>
<text x="348.31" y="127.08" font-size="5.8" text-anchor="middle" fill="#383838" font-weight="normal" font-style="normal" transform="rotate(0.04 348.31 127.08)" stroke="#383838" stroke-width="0.1">Rv02</text>
<text x="374.72" y="127.08" font-size="5.8" text-anchor="middle" fill="#383838" font-weight="normal" font-style="normal" transform="rotate(0.04 374.72 127.08)" stroke="#383838" stroke-width="0.1">Rv04</text>
<text x="401.13" y="127.08" font-size="5.8" text-anchor="middle" fill="#383838" font-weight="normal" font-style="normal" transform="rotate(0.04 401.13 127.08)" stroke="#383838" stroke-width="0.1">Rv06</text>
<text x="427.54" y="127.08" font-size="5.8" text-anchor="middle" fill="#383838" font-weight="normal" font-style="normal" transform="rotate(0.04 427.54 127.08)" stroke="#383838" stroke-width="0.1">Rv09</text>
<text x="480.20" y="8.24" font-size="5.7" text-anchor="end" fill="#383838" font-weight="normal" font-style="normal" transform="rotate(0.04 480.20 8.24)" stroke="#383838" stroke-width="0.1">160</text>
<text x="480.20" y="22.08" font-size="5.7" text-anchor="end" fill="#383838" font-weight="normal" font-style="normal" transform="rotate(0.04 480.20 22.08)" stroke="#383838" stroke-width="0.1">150</text>
<text x="480.20" y="35.92" font-size="5.7" text-anchor="end" fill="#383838" font-weight="normal" font-style="normal" transform="rotate(0.04 480.20 35.92)" stroke="#383838" stroke-width="0.1">140</text>
<text x="480.20" y="49.76" font-size="5.7" text-anchor="end" fill="#383838" font-weight="normal" font-style="normal" transform="rotate(0.04 480.20 49.76)" stroke="#383838" stroke-width="0.1">130</text>
<text x="480.20" y="63.60" font-size="5.7" text-anchor="end" fill="#383838" font-weight="normal" font-style="normal" transform="rotate(0.04 480.20 63.60)" stroke="#383838" stroke-width="0.1">120</text>
<text x="480.20" y="77.44" font-size="5.7" text-anchor="end" fill="#383838" font-weight="normal" font-style="normal" transform="rotate(0.04 480.20 77.44)" stroke="#383838" stroke-width="0.1">110</text>
<text x="480.20" y="91.28" font-size="5.7" text-anchor="end" fill="#383838" font-weight="normal" font-style="normal" transform="rotate(0.04 480.20 91.28)" stroke="#383838" stroke-width="0.1">100</text>
<text x="480.20" y="105.12" font-size="5.7" text-anchor="end" fill="#383838" font-weight="normal" font-style="normal" transform="rotate(0.04 480.20 105.12)" stroke="#383838" stroke-width="0.1">90</text>
<text x="480.20" y="118.96" font-size="5.7" text-anchor="end" fill="#383838" font-weight="normal" font-style="normal" transform="rotate(0.04 480.20 118.96)" stroke="#383838" stroke-width="0.1">80</text>
<text x="464.70" y="65.20" font-size="5.7" text-anchor="middle" fill="#383838" font-weight="normal" font-style="normal" transform="rotate(-89.96 464.70 65.20)" stroke="#383838" stroke-width="0.1">deg</text>
<text x="496.97" y="127.08" font-size="5.8" text-anchor="middle" fill="#383838" font-weight="normal" font-style="normal" transform="rotate(0.04 496.97 127.08)" stroke="#383838" stroke-width="0.1">Hv02</text>
<text x="522.01" y="127.08" font-size="5.8" text-anchor="middle" fill="#383838" font-weight="normal" font-style="normal" transform="rotate(0.04 522.01 127.08)" stroke="#383838" stroke-width="0.1">Hv03</text>
<text x="547.04" y="127.08" font-size="5.8" text-anchor="middle" fill="#383838" font-weight="normal" font-style="normal" transform="rotate(0.04 547.04 127.08)" stroke="#383838" stroke-width="0.1">Hv05</text>
<text x="572.08" y="127.08" font-size="5.8" text-anchor="middle" fill="#383838" font-weight="normal" font-style="normal" transform="rotate(0.04 572.08 127.08)" stroke="#383838" stroke-width="0.1">Hv09</text>
<text x="597.12" y="127.08" font-size="5.8" text-anchor="middle" fill="#383838" font-weight="normal" font-style="normal" transform="rotate(0.04 597.12 127.08)" stroke="#383838" stroke-width="0.1">Rv02</text>
<text x="622.16" y="127.08" font-size="5.8" text-anchor="middle" fill="#383838" font-weight="normal" font-style="normal" transform="rotate(0.04 622.16 127.08)" stroke="#383838" stroke-width="0.1">Rv04</text>
<text x="647.19" y="127.08" font-size="5.8" text-anchor="middle" fill="#383838" font-weight="normal" font-style="normal" transform="rotate(0.04 647.19 127.08)" stroke="#383838" stroke-width="0.1">Rv06</text>
<text x="672.23" y="127.08" font-size="5.8" text-anchor="middle" fill="#383838" font-weight="normal" font-style="normal" transform="rotate(0.04 672.23 127.08)" stroke="#383838" stroke-width="0.1">Rv09</text>
<text x="15.00" y="169.73" font-size="5.1" text-anchor="end" fill="#383838" font-weight="normal" font-style="normal" transform="rotate(0.04 15.00 169.73)" stroke="#383838" stroke-width="0.1">12</text>
<text x="15.00" y="188.07" font-size="5.1" text-anchor="end" fill="#383838" font-weight="normal" font-style="normal" transform="rotate(0.04 15.00 188.07)" stroke="#383838" stroke-width="0.1">10</text>
<text x="15.00" y="206.41" font-size="5.1" text-anchor="end" fill="#383838" font-weight="normal" font-style="normal" transform="rotate(0.04 15.00 206.41)" stroke="#383838" stroke-width="0.1">8</text>
<text x="15.00" y="224.75" font-size="5.1" text-anchor="end" fill="#383838" font-weight="normal" font-style="normal" transform="rotate(0.04 15.00 224.75)" stroke="#383838" stroke-width="0.1">6</text>
<text x="15.00" y="243.09" font-size="5.1" text-anchor="end" fill="#383838" font-weight="normal" font-style="normal" transform="rotate(0.04 15.00 243.09)" stroke="#383838" stroke-width="0.1">4</text>
<text x="15.00" y="261.43" font-size="5.1" text-anchor="end" fill="#383838" font-weight="normal" font-style="normal" transform="rotate(0.04 15.00 261.43)" stroke="#383838" stroke-width="0.1">2</text>
<text x="15.00" y="279.77" font-size="5.1" text-anchor="end" fill="#383838" font-weight="normal" font-style="normal" transform="rotate(0.04 15.00 279.77)" stroke="#383838" stroke-width="0.1">0</text>
<text x="3.90" y="226.30" font-size="5.1" text-anchor="middle" fill="#383838" font-weight="normal" font-style="normal" transform="rotate(-89.96 3.90 226.30)" stroke="#383838" stroke-width="0.1">mm</text>
<text x="64.60" y="286.81" font-size="5.06" text-anchor="middle" fill="#383838" font-weight="normal" font-style="normal" transform="rotate(0.04 64.60 286.81)" stroke="#383838" stroke-width="0.1">Mining Shaft NW2</text>
<text x="154.40" y="286.81" font-size="5.06" text-anchor="middle" fill="#383838" font-weight="normal" font-style="normal" transform="rotate(0.04 154.40 286.81)" stroke="#383838" stroke-width="0.1">Mining Shaft N</text>
<text x="234.00" y="172.54" font-size="5.7" text-anchor="end" fill="#2c2c2c" font-weight="normal" font-style="normal" transform="rotate(0.04 234.00 172.54)" stroke="#2c2c2c" stroke-width="0.1">14</text>
<text x="234.00" y="188.43" font-size="5.7" text-anchor="end" fill="#2c2c2c" font-weight="normal" font-style="normal" transform="rotate(0.04 234.00 188.43)" stroke="#2c2c2c" stroke-width="0.1">12</text>
<text x="234.00" y="204.32" font-size="5.7" text-anchor="end" fill="#2c2c2c" font-weight="normal" font-style="normal" transform="rotate(0.04 234.00 204.32)" stroke="#2c2c2c" stroke-width="0.1">10</text>
<text x="234.00" y="220.21" font-size="5.7" text-anchor="end" fill="#2c2c2c" font-weight="normal" font-style="normal" transform="rotate(0.04 234.00 220.21)" stroke="#2c2c2c" stroke-width="0.1">8</text>
<text x="234.00" y="236.10" font-size="5.7" text-anchor="end" fill="#2c2c2c" font-weight="normal" font-style="normal" transform="rotate(0.04 234.00 236.10)" stroke="#2c2c2c" stroke-width="0.1">6</text>
<text x="234.00" y="251.99" font-size="5.7" text-anchor="end" fill="#2c2c2c" font-weight="normal" font-style="normal" transform="rotate(0.04 234.00 251.99)" stroke="#2c2c2c" stroke-width="0.1">4</text>
<text x="234.00" y="267.88" font-size="5.7" text-anchor="end" fill="#2c2c2c" font-weight="normal" font-style="normal" transform="rotate(0.04 234.00 267.88)" stroke="#2c2c2c" stroke-width="0.1">2</text>
<text x="234.00" y="283.77" font-size="5.7" text-anchor="end" fill="#2c2c2c" font-weight="normal" font-style="normal" transform="rotate(0.04 234.00 283.77)" stroke="#2c2c2c" stroke-width="0.1">0</text>
<text x="222.30" y="226.00" font-size="5.3" text-anchor="middle" fill="#2c2c2c" font-weight="normal" font-style="italic" transform="rotate(-89.96 222.30 226.00)" stroke="#2c2c2c" stroke-width="0.1">mm</text>
<text x="287.25" y="286.86" font-size="5.2" text-anchor="middle" fill="#2c2c2c" font-weight="normal" font-style="normal" transform="rotate(0.04 287.25 286.86)" stroke="#2c2c2c" stroke-width="0.1">Mining Shaft NW2</text>
<text x="389.10" y="286.86" font-size="5.2" text-anchor="middle" fill="#2c2c2c" font-weight="normal" font-style="normal" transform="rotate(0.04 389.10 286.86)" stroke="#2c2c2c" stroke-width="0.1">Mining Shaft N</text>
<text x="481.10" y="169.24" font-size="5.7" text-anchor="end" fill="#383838" font-weight="normal" font-style="normal" transform="rotate(0.04 481.10 169.24)" stroke="#383838" stroke-width="0.1">140</text>
<text x="481.10" y="187.54" font-size="5.7" text-anchor="end" fill="#383838" font-weight="normal" font-style="normal" transform="rotate(0.04 481.10 187.54)" stroke="#383838" stroke-width="0.1">130</text>
<text x="481.10" y="205.84" font-size="5.7" text-anchor="end" fill="#383838" font-weight="normal" font-style="normal" transform="rotate(0.04 481.10 205.84)" stroke="#383838" stroke-width="0.1">120</text>
<text x="481.10" y="224.14" font-size="5.7" text-anchor="end" fill="#383838" font-weight="normal" font-style="normal" transform="rotate(0.04 481.10 224.14)" stroke="#383838" stroke-width="0.1">110</text>
<text x="481.10" y="242.44" font-size="5.7" text-anchor="end" fill="#383838" font-weight="normal" font-style="normal" transform="rotate(0.04 481.10 242.44)" stroke="#383838" stroke-width="0.1">100</text>
<text x="481.10" y="260.74" font-size="5.7" text-anchor="end" fill="#383838" font-weight="normal" font-style="normal" transform="rotate(0.04 481.10 260.74)" stroke="#383838" stroke-width="0.1">90</text>
<text x="481.10" y="279.04" font-size="5.7" text-anchor="end" fill="#383838" font-weight="normal" font-style="normal" transform="rotate(0.04 481.10 279.04)" stroke="#383838" stroke-width="0.1">80</text>
<text x="466.10" y="225.60" font-size="5.7" text-anchor="middle" fill="#383838" font-weight="normal" font-style="normal" transform="rotate(-89.96 466.10 225.60)" stroke="#383838" stroke-width="0.1">deg</text>
<text x="536.25" y="286.74" font-size="5.7" text-anchor="middle" fill="#383838" font-weight="normal" font-style="normal" transform="rotate(0.04 536.25 286.74)" stroke="#383838" stroke-width="0.1">Mining Shaft NW2</text>
<text x="635.90" y="286.74" font-size="5.7" text-anchor="middle" fill="#383838" font-weight="normal" font-style="normal" transform="rotate(0.04 635.90 286.74)" stroke="#383838" stroke-width="0.1">Mining Shaft N</text>
<text x="12.00" y="146.90" font-size="12.7" text-anchor="start" fill="#000" font-weight="normal" font-style="normal" transform="rotate(0.04 12.00 146.90)" stroke="#000" stroke-width="0.15">a</text>
<text x="219.50" y="146.90" font-size="12.7" text-anchor="start" fill="#000" font-weight="normal" font-style="normal" transform="rotate(0.04 219.50 146.90)" stroke="#000" stroke-width="0.15">b</text>
<text x="476.50" y="147.00" font-size="13.0" text-anchor="start" fill="#000" font-weight="normal" font-style="normal" transform="rotate(0.04 476.50 147.00)" stroke="#000" stroke-width="0.32">c</text>
<text x="12.00" y="307.20" font-size="12.7" text-anchor="start" fill="#000" font-weight="normal" font-style="normal" transform="rotate(0.04 12.00 307.20)" stroke="#000" stroke-width="0.15">d</text>
<text x="219.10" y="306.60" font-size="13.0" text-anchor="start" fill="#000" font-weight="normal" font-style="normal" transform="rotate(0.04 219.10 306.60)" stroke="#000" stroke-width="0.32">e</text>
<text x="479.30" y="306.50" font-size="13.0" text-anchor="start" fill="#000" font-weight="normal" font-style="normal" transform="rotate(0.04 479.30 306.50)" stroke="#000" stroke-width="0.32">f</text>
</g>
</svg>
</body></html>
